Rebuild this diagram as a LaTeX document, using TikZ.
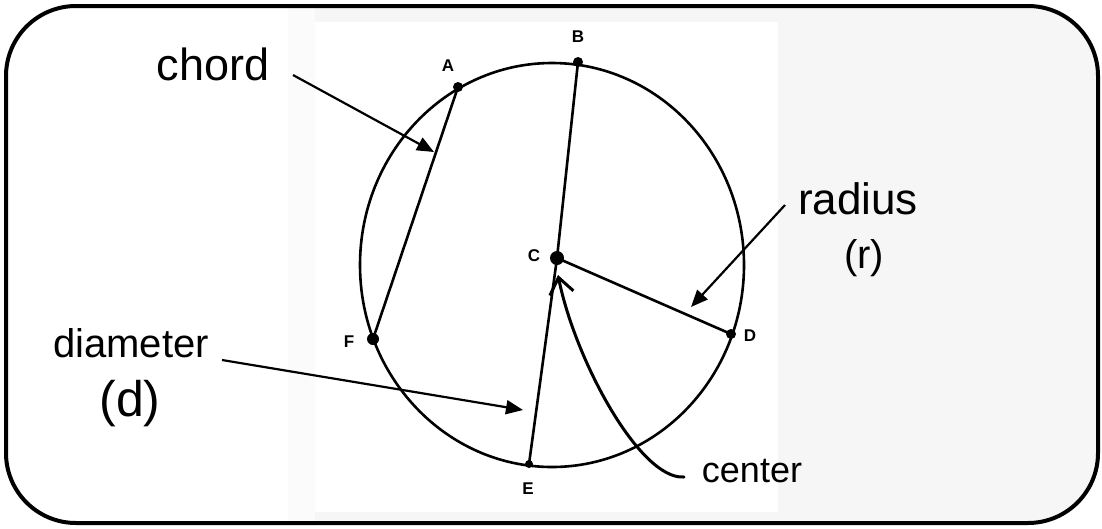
\documentclass[tikz,border=0pt]{standalone}
\usepackage{fontspec}
\setmainfont{Liberation Sans}
\usetikzlibrary{arrows.meta}
\tikzset{
  hand/.style={inner sep=0pt, anchor=base, text=black},
  ptlabel/.style={inner sep=0pt, font=\fontsize{17}{17}\selectfont\bfseries},
  ptdot/.style={fill=black, circle, inner sep=0pt, minimum size=10pt},
  geoline/.style={line width=2.6pt, black},
  pointer/.style={line width=2.2pt, -{Triangle[length=17pt,width=14pt]}},
  centerptr/.style={line width=3pt, line cap=round, -{Straight Barb[length=16pt,width=24pt,line width=3pt]}},
}
\begin{document}
\begin{tikzpicture}[x=1pt,y=-1pt]
\useasboundingbox (0,0) rectangle (1102,528);
% background of the scan
\begin{scope}
  \clip[rounded corners=70pt] (6,6) rectangle (1098,523);
  \fill[gray!7] (0,0) rectangle (1102,528);
  \fill[white] (0,0) rectangle (288,528);
  \fill[gray!3] (288,0) rectangle (315,528);
  \fill[white] (315,22) rectangle (778,512);
\end{scope}
\draw[line width=4pt, rounded corners=70pt] (6,6) rectangle (1098,523);

% circle
\draw[geoline] (552,265) ellipse [x radius=192, y radius=202];

% points
\node[ptdot] (A) at (458,87) {};
\node[ptdot] (B) at (578,62) {};
\node[ptdot, minimum size=14pt] (C) at (557,258) {};
\node[ptdot] (D) at (731,334) {};
\node[ptdot, minimum size=8pt] (E) at (529,464) {};
\node[ptdot, minimum size=12pt] (F) at (373,339) {};

\node[ptlabel] (lA) at (448,66) {A};
\node[ptlabel] (lB) at (578,37) {B};
\node[ptlabel] (lC) at (534,256) {C};
\node[ptlabel] (lD) at (750,336) {D};
\node[ptlabel] (lE) at (528,489) {E};
\node[ptlabel] (lF) at (349,342) {F};

% segments
\draw[geoline] (A.center) -- (F.center);
\draw[geoline] (B.center) -- (C.center) -- (E.center);
\draw[geoline] (C.center) -- (D.center);

% handwritten labels
\node[hand, font=\fontsize{45}{45}\selectfont] (chord) at (213,80) {chord};
\node[hand, font=\fontsize{44}{44}\selectfont] (radius) at (858,214) {radius};
\node[hand, font=\fontsize{40}{40}\selectfont] (r) at (864,268) {(r)};
\node[hand, font=\fontsize{40}{40}\selectfont] (diameter) at (131,357) {diameter};
\node[hand, font=\fontsize{50}{50}\selectfont] (d) at (130,416) {(d)};
\node[hand, font=\fontsize{36}{36}\selectfont] (center) at (752,482) {center};

% arrows
\coordinate (chordtail) at (293,75);
\coordinate (chordtip) at (434,152);
\coordinate (radtail) at (785,205);
\coordinate (radtip) at (691,307);
\coordinate (diamtail) at (222,360);
\coordinate (diamtip) at (523,410);
\coordinate (centtail) at (684,477);
\coordinate (centtip) at (558,275);

\draw[pointer] (chordtail) -- (chordtip);
\draw[pointer] (radtail) -- (radtip);
\draw[pointer] (diamtail) -- (diamtip);
\draw[centerptr] (centtail) .. controls (640,480) and (575,360) .. (centtip);
\end{tikzpicture}
\end{document}
